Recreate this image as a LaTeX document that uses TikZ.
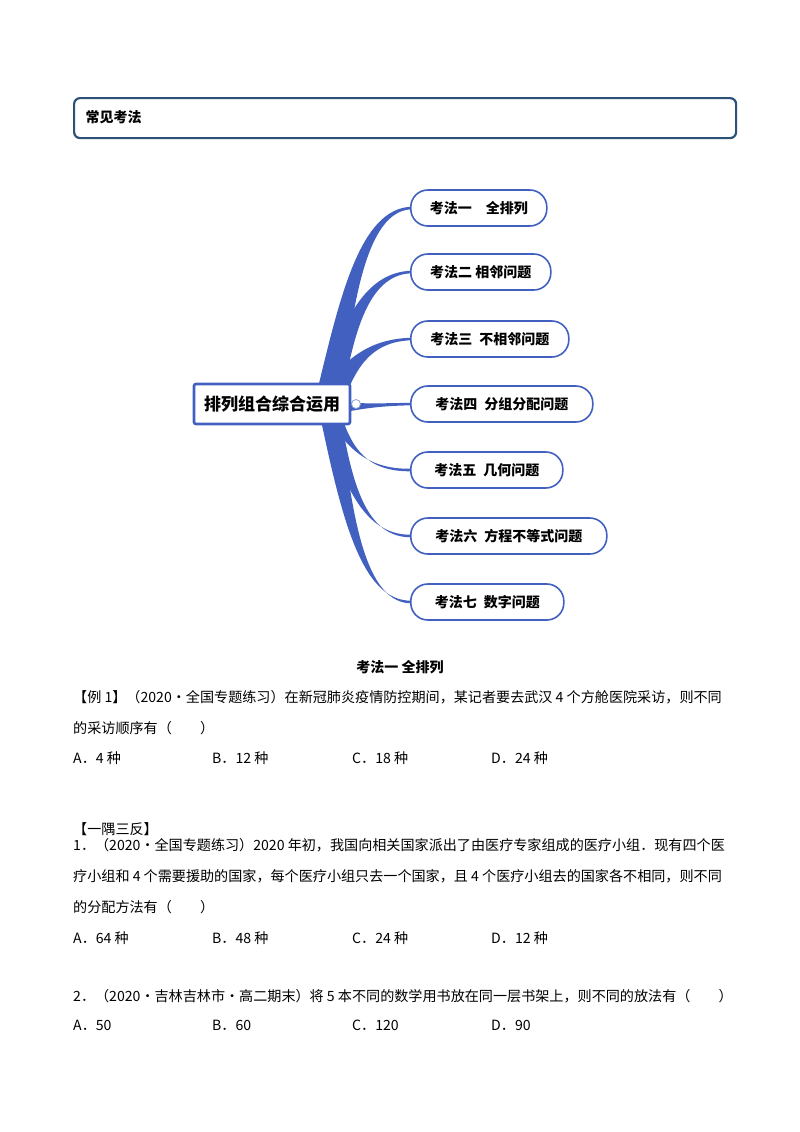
\documentclass[tikz,border=0pt]{standalone}
\usepackage{fontspec}
\setmainfont{Noto Sans CJK SC}
\begin{document}
\begin{tikzpicture}[x=1pt,y=-1pt,
  br/.style={draw=mblue,line width=1.6pt,rounded corners=17pt,minimum height=36pt,fill=white,font=\bfseries\fontsize{14}{16}\selectfont,inner xsep=14pt},
  txt/.style={anchor=west,font=\fontsize{14.1}{16}\selectfont,inner sep=0pt},
  branch/.style={fill=mblue}]
\definecolor{mblue}{HTML}{4260C0}
\definecolor{hblue}{HTML}{2C5278}
\useasboundingbox (0,0) rectangle (800,1132);
\node[draw=hblue,line width=2.2pt,rounded corners=6pt,minimum width=662pt,minimum height=40pt,anchor=north west] (hdr) at (73,97) {};
\node[anchor=west,font=\bfseries\fontsize{14}{16}\selectfont] (hdrt) at (82,117) {常见考法};
% branches
\foreach \y in {208,272,339,404,470,536,602}{
  \fill[branch] (316,396) .. controls (340,\y+0.45*404-0.45*\y) and (360,\y) .. (412,\y-1.3)
     -- (412,\y+1.3) .. controls (366,\y+2) and (352,\y+0.45*404-0.45*\y+8) .. (340,412) -- cycle;
}
\node[draw=mblue,line width=2.6pt,minimum width=156pt,minimum height=40pt,fill=white,font=\bfseries\fontsize{17}{19}\selectfont,rounded corners=2pt] (c) at (272,404) {排列组合综合运用};
\node[circle,draw=mblue!60,fill=white,minimum size=9pt,inner sep=0pt,line width=0.8pt] (dot) at (356,404) {};
\node[br,anchor=west,minimum width=136pt] (b1) at (410,208) {考法一\quad 全排列};
\node[br,anchor=west,minimum width=140pt] (b2) at (410,272) {考法二 相邻问题};
\node[br,anchor=west,minimum width=158pt] (b3) at (410,339) {考法三\enspace 不相邻问题};
\node[br,anchor=west,minimum width=182pt] (b4) at (410,404) {考法四\enspace 分组分配问题};
\node[br,anchor=west,minimum width=152pt] (b5) at (410,470) {考法五\enspace 几何问题};
\node[br,anchor=west,minimum width=196pt] (b6) at (410,536) {考法六\enspace 方程不等式问题};
\node[br,anchor=west,minimum width=153pt] (b7) at (410,602) {考法七\enspace 数字问题};
% text
\node[font=\bfseries\fontsize{14}{16}\selectfont] (h1) at (400,667) {考法一 全排列};
\node[txt] (l1) at (73,697) {【例 1】（2020·全国专题练习）在新冠肺炎疫情防控期间，某记者要去武汉 4 个方舱医院采访，则不同};
\node[txt] (l2) at (73,728) {的采访顺序有（\quad\quad ）};
\node[txt] (a1) at (73,758) {A．4 种};
\node[txt] (a2) at (212,758) {B．12 种};
\node[txt] (a3) at (352,758) {C．18 种};
\node[txt] (a4) at (491,758) {D．24 种};
\node[txt] (y) at (73,829) {【一隅三反】};
\node[txt] (q1) at (73,845) {1．（2020·全国专题练习）2020 年初，我国向相关国家派出了由医疗专家组成的医疗小组．现有四个医};
\node[txt] (q2) at (73,876) {疗小组和 4 个需要援助的国家，每个医疗小组只去一个国家，且 4 个医疗小组去的国家各不相同，则不同};
\node[txt] (q3) at (73,907) {的分配方法有（\quad\quad ）};
\node[txt] (b1a) at (73,938) {A．64 种};
\node[txt] (b1b) at (212,938) {B．48 种};
\node[txt] (b1c) at (352,938) {C．24 种};
\node[txt] (b1d) at (491,938) {D．12 种};
\node[txt] (r1) at (73,996) {2．（2020·吉林吉林市·高二期末）将 5 本不同的数学用书放在同一层书架上，则不同的放法有（\quad\quad ）};
\node[txt] (c1a) at (73,1025) {A．50};
\node[txt] (c1b) at (212,1025) {B．60};
\node[txt] (c1c) at (352,1025) {C．120};
\node[txt] (c1d) at (491,1025) {D．90};
\end{tikzpicture}
\end{document}
